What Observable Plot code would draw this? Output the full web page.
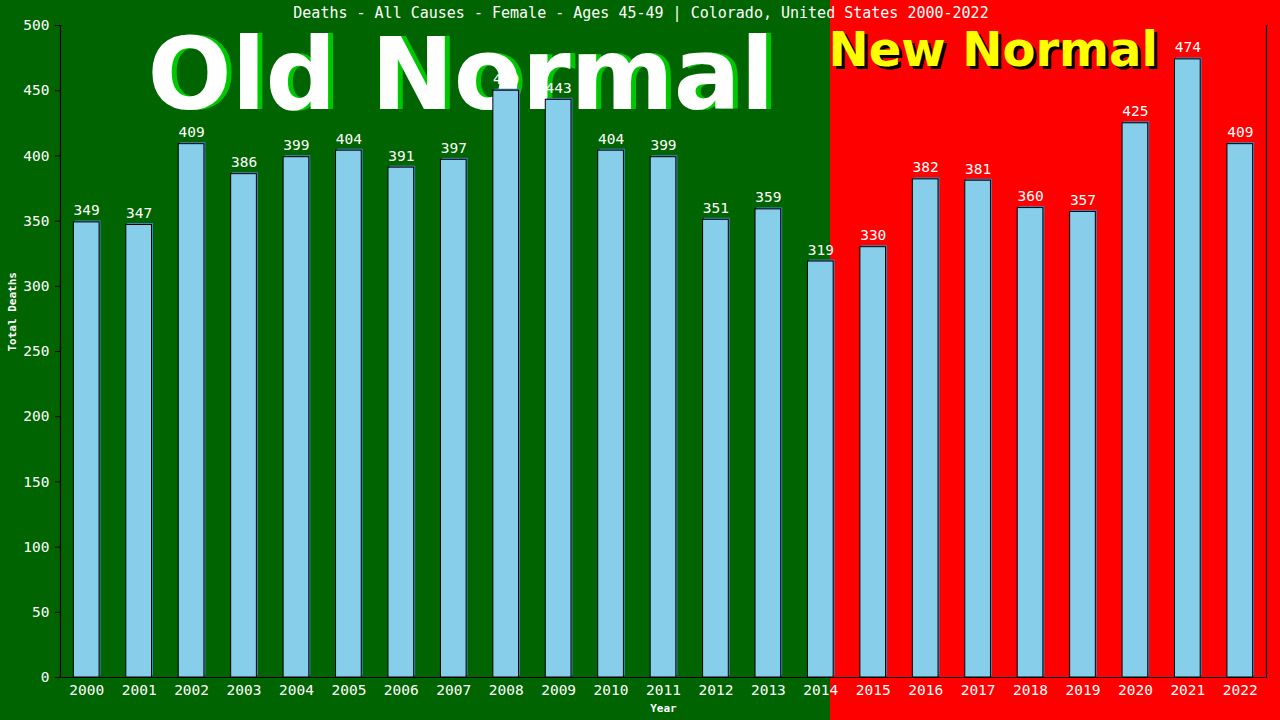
<!DOCTYPE html>
<html>
<head>
<meta charset="utf-8">
<script src="https://cdn.jsdelivr.net/npm/d3@7"></script>
<script src="https://cdn.jsdelivr.net/npm/@observablehq/plot@0.6"></script>
<style>
  html, body { margin: 0; padding: 0; }
  #chart {
    width: 1280px; height: 720px; overflow: hidden;
    background: linear-gradient(to right, #006400 0px, #006400 830px, #ff0000 830px, #ff0000 1280px);
  }
  #chart svg { display: block; }
</style>
</head>
<body>
<div id="chart"></div>
<script>
const years = ["2000","2001","2002","2003","2004","2005","2006","2007","2008","2009","2010","2011","2012","2013","2014","2015","2016","2017","2018","2019","2020","2021","2022"];
const deaths = [349,347,409,386,399,404,391,397,450,443,404,399,351,359,319,330,382,381,360,357,425,474,409];
const yTicks = [0,50,100,150,200,250,300,350,400,450,500];
const titleText = "Deaths - All Causes - Female - Ages 45-49 | Colorado, United States 2000-2022";
const oldLabel = "Old Normal";
const newLabel = "New Normal";

const data = years.map((y, i) => ({year: y, value: deaths[i]}));
const mono = "'DejaVu Sans Mono', 'Liberation Mono', monospace";
const sans = "'DejaVu Sans', Verdana, sans-serif";

const chart = Plot.plot({
  width: 1280,
  height: 720,
  marginTop: 25,
  marginRight: 14,
  marginBottom: 43,
  marginLeft: 60,
  style: {background: "transparent", fontFamily: mono, fontSize: "14.5px", color: "white", overflow: "visible"},
  x: {type: "band", domain: years, paddingInner: 0.51, paddingOuter: 0.255, align: 0.5, round: false},
  y: {domain: [0, 500]},
  marks: [
    Plot.text([oldLabel], {text: d => d, frameAnchor: "top-left", dx: 87 + 5, dy: 83, textAnchor: "start", lineAnchor: "bottom", fill: "#00c800", fontSize: 99, fontWeight: "bold", fontFamily: sans}),
    Plot.text([oldLabel], {text: d => d, frameAnchor: "top-left", dx: 87, dy: 83, textAnchor: "start", lineAnchor: "bottom", fill: "white", fontSize: 99, fontWeight: "bold", fontFamily: sans}),
    Plot.text([newLabel], {text: d => d, frameAnchor: "top-left", dx: 768 + 3, dy: 40 + 3, textAnchor: "start", lineAnchor: "bottom", fill: "black", fontSize: 48, fontWeight: "bold", fontFamily: sans}),
    Plot.text([newLabel], {text: d => d, frameAnchor: "top-left", dx: 768, dy: 40, textAnchor: "start", lineAnchor: "bottom", fill: "#ffff00", fontSize: 48, fontWeight: "bold", fontFamily: sans}),
    Plot.barY(data, {x: "year", y: "value", fill: "#4682b4", dx: 1.5, dy: -1.5}),
    Plot.barY(data, {x: "year", y: "value", fill: "#87ceeb", stroke: "black", strokeWidth: 1}),
    Plot.text(data, {x: "year", y: "value", text: d => String(d.value), dy: -7, lineAnchor: "bottom", fill: "white", fontSize: 14.5, fontFamily: mono}),
    Plot.ruleY([0], {stroke: "black", strokeWidth: 1.2}),
    Plot.frame({anchor: "left", stroke: "black", strokeWidth: 1.2}),
    Plot.frame({anchor: "right", stroke: "black", strokeWidth: 1.2}),
    Plot.axisY({ticks: yTicks, tickSize: 5, tickPadding: 6, stroke: "black", fill: "white", label: null, fontSize: 14.5, fontFamily: mono}),
    Plot.axisX({tickSize: 0, tickPadding: 7, fill: "white", label: null, fontSize: 14.5, fontFamily: mono}),
    Plot.text(["Total Deaths"], {text: d => d, frameAnchor: "left", dx: -48, rotate: -90, fill: "white", fontSize: 11, fontWeight: "bold", fontFamily: mono}),
    Plot.text(["Year"], {text: d => d, frameAnchor: "bottom", dy: 27, lineAnchor: "top", fill: "white", fontSize: 11, fontWeight: "bold", fontFamily: mono}),
    Plot.text([titleText], {text: d => d, frameAnchor: "top", dx: -22.5, dy: -12, lineAnchor: "middle", fill: "white", fontSize: 15, fontFamily: mono})
  ]
});
document.getElementById("chart").appendChild(chart);
</script>
</body>
</html>
